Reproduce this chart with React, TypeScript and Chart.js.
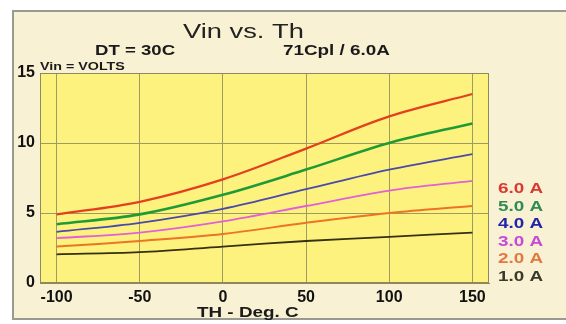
import React, { useEffect, useRef } from "react";
import { Chart, registerables } from "chart.js";

Chart.register(...registerables);

// ---- data ----
const temperatures = [-100, -50, 0, 50, 100, 150];
const xTickValues = [-100, -50, 0, 50, 100, 150];
const yTickValues = [0, 5, 10, 15];
const seriesLabels = ["6.0 A", "5.0 A", "4.0 A", "3.0 A", "2.0 A", "1.0 A"];
const vin60 = [4.9, 5.8, 7.4, 9.6, 11.9, 13.5];
const vin50 = [4.2, 4.9, 6.3, 8.1, 10.0, 11.4];
const vin40 = [3.65, 4.3, 5.3, 6.7, 8.1, 9.2];
const vin30 = [3.2, 3.6, 4.4, 5.5, 6.6, 7.3];
const vin20 = [2.6, 3.0, 3.5, 4.3, 5.0, 5.5];
const vin10 = [2.05, 2.2, 2.6, 3.0, 3.3, 3.6];
const seriesValues = [vin60, vin50, vin40, vin30, vin20, vin10];
const lineColors = ["#e2401e", "#1f9a35", "#4a4aa8", "#e060d8", "#ec7424", "#35300f"];
const legendColors = ["#d83a30", "#2f8a55", "#2424a8", "#c848d8", "#e07a40", "#3a3a28"];
const lineWidths = [2.2, 2.6, 1.8, 1.8, 2.0, 1.8];

const titleText = "Vin vs. Th";
const subLeftText = "DT = 30C";
const subRightText = "71Cpl / 6.0A";
const yUnitText = "Vin = VOLTS";
const xTitleText = "TH - Deg. C";

const FONT = "'Liberation Sans', Arial, Helvetica, sans-serif";
const SX = 1.3;

function drawStretched(
  ctx: CanvasRenderingContext2D,
  text: string,
  x: number,
  yBase: number,
  font: string,
  color: string
) {
  ctx.save();
  ctx.font = font;
  ctx.fillStyle = color;
  ctx.textAlign = "left";
  ctx.textBaseline = "alphabetic";
  ctx.translate(x, yBase);
  ctx.scale(SX, 1);
  ctx.fillText(text, 0, 0);
  ctx.restore();
}

const framePlugin = {
  id: "framePlugin",
  beforeDraw(chart: any) {
    const { ctx, chartArea } = chart;
    ctx.save();
    ctx.fillStyle = "#ffffff";
    ctx.fillRect(0, 0, chart.width, chart.height);
    ctx.fillStyle = "#f9f1d4";
    ctx.fillRect(12, 10, chart.width - 12, 310);
    ctx.strokeStyle = "#9a9a90";
    ctx.lineWidth = 2;
    ctx.strokeRect(13, 11, chart.width, 308);
    ctx.fillStyle = "#fdf27e";
    ctx.fillRect(chartArea.left, chartArea.top, chartArea.right - chartArea.left, chartArea.bottom - chartArea.top);
    ctx.restore();
  },
  afterDraw(chart: any) {
    const { ctx, chartArea } = chart;
    ctx.save();
    ctx.strokeStyle = "#8c8a5c";
    ctx.lineWidth = 1;
    ctx.strokeRect(chartArea.left + 0.5, chartArea.top + 0.5, chartArea.right - chartArea.left - 1, chartArea.bottom - chartArea.top - 1);
    ctx.restore();

    drawStretched(ctx, titleText, 183, 38, `21px ${FONT}`, "#222222");
    drawStretched(ctx, subLeftText, 95, 55, `bold 14.3px ${FONT}`, "#1a1a1a");
    drawStretched(ctx, subRightText, 283, 55, `bold 14.5px ${FONT}`, "#1a1a1a");
    drawStretched(ctx, yUnitText, 40, 70, `bold 11px ${FONT}`, "#1a1a1a");
    drawStretched(ctx, xTitleText, 197, 317, `bold 14.5px ${FONT}`, "#1a1a1a");

    chart.data.datasets.forEach((ds: any, i: number) => {
      drawStretched(ctx, ds.label, 498, 193 + i * 17.6, `bold 14.5px ${FONT}`, legendColors[i]);
    });
  },
};

export default function App() {
  const canvasRef = useRef<HTMLCanvasElement | null>(null);

  useEffect(() => {
    document.body.style.margin = "0";
    const canvas = canvasRef.current;
    if (!canvas) return;
    const chart = new Chart(canvas, {
      type: "line",
      data: {
        datasets: seriesLabels.map((label, i) => ({
          label,
          data: temperatures.map((t, j) => ({ x: t, y: seriesValues[i][j] })),
          borderColor: lineColors[i],
          backgroundColor: lineColors[i],
          borderWidth: lineWidths[i],
          pointRadius: 0,
          tension: 0.35,
          fill: false,
        })),
      },
      options: {
        responsive: false,
        animation: false,
        layout: { padding: { left: 12, top: 73, right: 77, bottom: 0 } },
        plugins: {
          legend: { display: false },
          title: { display: false },
          tooltip: { enabled: false },
        },
        scales: {
          x: {
            type: "linear",
            min: -110,
            max: 160,
            afterBuildTicks: (scale: any) => {
              scale.ticks = xTickValues.map((v) => ({ value: v }));
            },
            afterFit: (scale: any) => {
              scale.height = 41;
            },
            ticks: {
              padding: 5,
              color: "#111111",
              font: { family: FONT, size: 16, weight: "bold" },
              maxRotation: 0,
              autoSkip: false,
            },
            grid: { color: "#9d9a62", lineWidth: 1, drawTicks: false },
            border: { display: true, color: "#8c8a5c", width: 1 },
          },
          y: {
            type: "linear",
            min: 0,
            max: 15,
            afterBuildTicks: (scale: any) => {
              scale.ticks = yTickValues.map((v) => ({ value: v }));
            },
            afterFit: (scale: any) => {
              scale.width = 28;
            },
            ticks: {
              padding: 5,
              color: "#111111",
              font: { family: FONT, size: 16, weight: "bold" },
              autoSkip: false,
            },
            grid: { color: "#9d9a62", lineWidth: 1, drawTicks: false },
            border: { display: true, color: "#8c8a5c", width: 1 },
          },
        },
      },
      plugins: [framePlugin],
    });
    return () => chart.destroy();
  }, []);

  return (
    <div style={{ width: 566, height: 324, position: "relative" }}>
      <canvas ref={canvasRef} width={566} height={324} style={{ display: "block" }} />
    </div>
  );
}
